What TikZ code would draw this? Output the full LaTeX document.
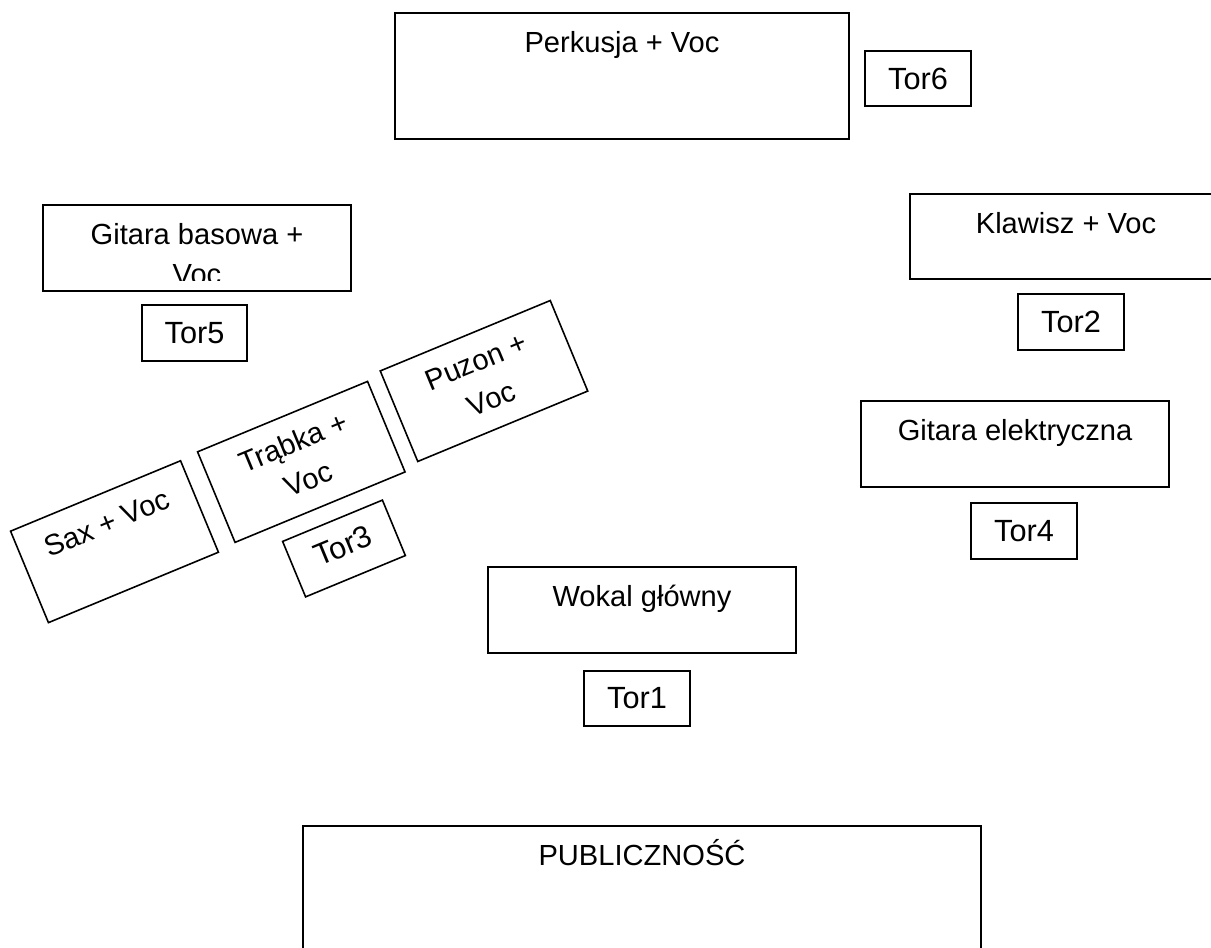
\documentclass[tikz,border=0pt]{standalone}
\usepackage{fontspec}
\setmainfont{Liberation Sans}

\begin{document}
\begin{tikzpicture}[x=0.44pt, y=-0.44pt,
    stagebox/.style={line width=0.7pt},
    instr/.style={anchor=base, align=center, inner sep=0pt, font=\fontsize{12.8}{17.6}\selectfont},
    tor/.style={inner sep=0pt, font=\fontsize{13.5}{16}\selectfont}]

    \useasboundingbox (0,0) rectangle (1211,948);
    \clip (0,0) rectangle (1211,948);

    %% Stage plan

    % Drums
    \draw[stagebox] (395,13) rectangle (849,139);
    \node[instr] (perkusja) at (622,52.5) {Perkusja + Voc};
    \draw[stagebox] (865,51) rectangle (971,106);
    \node[tor] (tor6) at (918,78.5) {Tor6};

    % Bass guitar (second line cut by the box)
    \begin{scope}
      \clip (43,205) rectangle (351,281);
      \node[instr] (basowa) at (197,284.5) {Gitara basowa +\\Voc};
    \end{scope}
    \draw[stagebox] (43,205) rectangle (351,291);
    \draw[stagebox] (142,305) rectangle (247,361);
    \node[tor] (tor5) at (194.5,333) {Tor5};

    % Keys
    \draw[stagebox] (910,194) rectangle (1220,279);
    \node[instr] (klawisz) at (1066,233.5) {Klawisz + Voc};
    \draw[stagebox] (1018,294) rectangle (1124,350);
    \node[tor] (tor2) at (1071,322) {Tor2};

    % Electric guitar
    \draw[stagebox] (861,401) rectangle (1169,487);
    \node[instr] (elektryczna) at (1015,440.5) {Gitara elektryczna};
    \draw[stagebox] (971,503) rectangle (1077,559);
    \node[tor] (tor4) at (1024,531) {Tor4};

    % Lead vocal
    \draw[stagebox] (488,567) rectangle (796,653);
    \node[instr] (wokal) at (642,606.5) {Wokal główny};
    \draw[stagebox] (584,671) rectangle (690,726);
    \node[tor] (tor1) at (637,698.5) {Tor1};

    % Horns
    \begin{scope}[shift={(114.5,541.7)}, rotate=22.5]
      \draw[stagebox] (-92,-49.5) rectangle (92,49.5);
      \node[instr, transform shape] (sax) at (0,-10) {Sax + Voc};
    \end{scope}
    \begin{scope}[shift={(301.3,461.9)}, rotate=22.5]
      \draw[stagebox] (-92,-49) rectangle (92,49);
      \node[instr, transform shape] (trabka) at (0,29) {Trąbka +\\Voc};
    \end{scope}
    \begin{scope}[shift={(484,381)}, rotate=22.5]
      \draw[stagebox] (-92,-49) rectangle (92,49);
      \node[instr, transform shape] (puzon) at (0,29) {Puzon +\\Voc};
    \end{scope}
    \begin{scope}[shift={(344,548.5)}, rotate=22.5]
      \draw[stagebox] (-54,-30) rectangle (54,30);
      \node[tor, transform shape] (tor3) at (0,-3) {Tor3};
    \end{scope}

    % Audience
    \draw[stagebox] (303,826) rectangle (981,960);
    \node[instr] (publicznosc) at (642,865) {PUBLICZNOŚĆ};

\end{tikzpicture}
\end{document}
